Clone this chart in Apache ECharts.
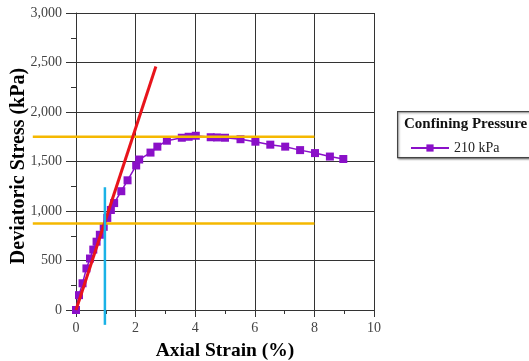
<!DOCTYPE html>
<html>
<head>
<meta charset="utf-8">
<script src="https://cdn.jsdelivr.net/npm/echarts@6/dist/echarts.min.js"></script>
<style>
  html, body { margin: 0; padding: 0; background: #fff; }
  #chart { width: 529px; height: 361px; }
</style>
</head>
<body>
<div id="chart"></div>
<script>
// Triaxial test, confining pressure 210 kPa
const strain = [0, 0.1, 0.22, 0.35, 0.47, 0.58, 0.69, 0.8, 0.93, 1.05, 1.17, 1.28, 1.52, 1.73, 2.02, 2.12, 2.5, 2.73, 3.05, 3.55, 3.78, 4.02, 4.52, 4.73, 5.0, 5.52, 6.02, 6.52, 7.02, 7.52, 8.02, 8.52, 8.97];
const stress = [0, 150, 270, 420, 520, 610, 690, 760, 840, 930, 1010, 1080, 1200, 1310, 1460, 1520, 1590, 1650, 1710, 1740, 1750, 1760, 1745, 1743, 1740, 1725, 1700, 1670, 1650, 1615, 1585, 1550, 1525];

// Initial tangent (red), peak and half-peak levels (orange), strain at half peak (blue)
const tangentX = [0, 2.68];
const tangentY = [0, 2460];
const peakStress = 1750;
const halfStress = 875;
const levelX = [-1.45, 8];
const halfStrainX = 0.97;
const halfStrainY = [-150, 1240];

const yTicks = [0, 500, 1000, 1500, 2000, 2500, 3000];
const xTicks = [0, 2, 4, 6, 8, 10];

const zip = (xs, ys) => xs.map((x, i) => [x, ys[i]]);
const serif = '"Liberation Serif", "Times New Roman", serif';

const chart = echarts.init(document.getElementById('chart'), null, { renderer: 'canvas' });

// Straight segment drawn through the axes' own scales, not clipped to the plot area
function segment(name, xs, ys, color, width, z) {
  return {
    name, type: 'custom', z, clip: false,
    data: [0],
    renderItem: (params, api) => {
      const a = api.coord([xs[0], ys[0]]);
      const b = api.coord([xs[1], ys[1]]);
      return {
        type: 'line',
        shape: { x1: a[0], y1: a[1], x2: b[0], y2: b[1] },
        style: { stroke: color, lineWidth: width }
      };
    }
  };
}

chart.setOption({
  animation: false,
  grid: { left: 76, right: 155, top: 13, bottom: 51, outerBoundsMode: 'none', containLabel: false },
  xAxis: {
    type: 'value', min: xTicks[0], max: xTicks[xTicks.length - 1], interval: 2,
    name: 'Axial Strain (%)', nameLocation: 'middle', nameGap: 31,
    nameTextStyle: { fontFamily: serif, fontWeight: 'bold', fontSize: 19.5, color: '#000' },
    axisLine: { lineStyle: { color: '#333', width: 1 } },
    axisTick: { length: 7, lineStyle: { color: '#333' } },
    minorTick: { show: true, splitNumber: 2, length: 4, lineStyle: { color: '#333' } },
    splitLine: { show: true, lineStyle: { color: '#333', width: 1 } },
    axisLabel: { fontFamily: serif, fontSize: 14, color: '#444', margin: 11 }
  },
  yAxis: {
    type: 'value', min: yTicks[0], max: yTicks[yTicks.length - 1], interval: 500,
    axisLine: { show: true, lineStyle: { color: '#333', width: 1 } },
    axisTick: { show: true, length: 10, lineStyle: { color: '#333' } },
    minorTick: { show: true, splitNumber: 2, length: 5, lineStyle: { color: '#333' } },
    splitLine: { show: true, lineStyle: { color: '#333', width: 1 } },
    axisLabel: {
      fontFamily: serif, fontSize: 14, color: '#444', margin: 14,
      formatter: v => v.toLocaleString('en-US')
    }
  },
  legend: {
    data: ['210 kPa'],
    left: 405, top: 136,
    itemWidth: 38, itemHeight: 9, itemGap: 6,
    textStyle: { fontFamily: serif, fontSize: 14, color: '#222' }
  },
  graphic: [
    {
      type: 'text', x: 19, y: 166, rotation: Math.PI / 2,
      style: {
        text: 'Deviatoric Stress (kPa)', font: 'bold 20px ' + serif, fill: '#000',
        align: 'center', verticalAlign: 'middle'
      }
    },
    {
      type: 'rect', left: 397, top: 111, z: -1,
      shape: { width: 140, height: 46 },
      style: { fill: '#fff', stroke: '#444', lineWidth: 1.2, shadowBlur: 2, shadowColor: 'rgba(0,0,0,0.4)', shadowOffsetX: 1, shadowOffsetY: 1 }
    },
    {
      type: 'text', left: 404, top: 117,
      style: { text: 'Confining Pressure', font: 'bold 15px ' + serif, fill: '#111' }
    }
  ],
  series: [
    {
      name: '210 kPa', type: 'line', data: zip(strain, stress),
      symbol: 'rect', symbolSize: 8,
      lineStyle: { color: '#8a10c8', width: 1.5 },
      itemStyle: { color: '#8a10c8' }, z: 2
    },
    segment('peak', levelX, [peakStress, peakStress], '#f5b800', 2.5, 3),
    segment('half', levelX, [halfStress, halfStress], '#f5b800', 2.5, 3),
    segment('tangent', tangentX, tangentY, '#e8141b', 3, 4),
    segment('strain50', [halfStrainX, halfStrainX], halfStrainY, '#1ab2e6', 2.5, 5)
  ]
});
</script>
</body>
</html>
